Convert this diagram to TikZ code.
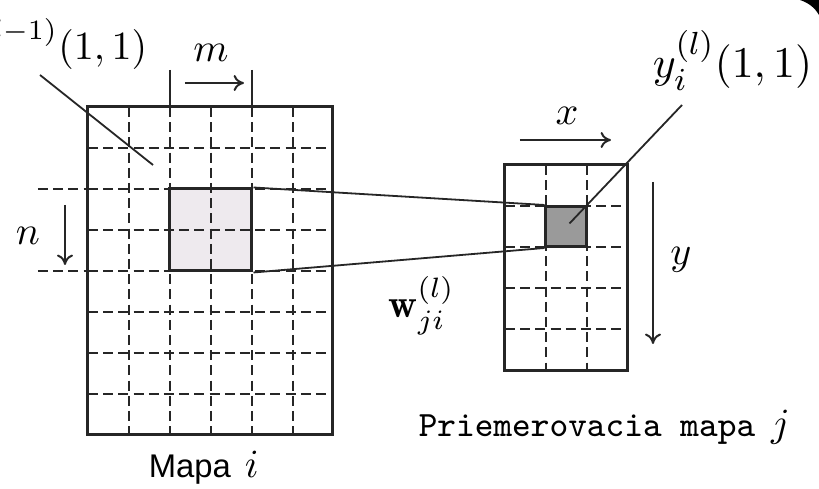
\documentclass[tikz,border=0pt]{standalone}
\usepackage{fontspec}
\newfontfamily\sansf{Liberation Sans}
\usetikzlibrary{arrows.meta}
\definecolor{lightsq}{HTML}{EEEAEE}
\definecolor{darksq}{HTML}{9A9A9A}
\definecolor{ink}{HTML}{262626}
\begin{document}
\begin{tikzpicture}[x=0.25pt,y=-0.25pt,
  solidline/.style={draw=ink,line width=0.75pt},
  dashline/.style={draw=ink,line width=0.6pt,dash pattern=on 2.5pt off 1.3pt},
  leader/.style={draw=ink,line width=0.45pt},
  arr/.style={draw=ink,line width=0.5pt,-{To[length=2.6pt,width=4pt]}},
  lbl/.style={inner sep=0pt,font=\fontsize{10}{12}\selectfont},
  winbox/.style={draw=ink,line width=0.75pt,inner sep=0pt,minimum width=20.5pt,minimum height=20.5pt},
  cellbox/.style={draw=ink,line width=0.75pt,inner sep=0pt,minimum width=10.25pt,minimum height=10pt}]
\useasboundingbox (0,0) rectangle (819,489);
\fill[white] (0,0) rectangle (819,489);
\fill[black] (800,0) .. controls (809,3) and (815,8) .. (819,15) -- (819,0) -- cycle;
% left map
\fill[lightsq] (170,189) rectangle (252,271);
\foreach \x in {129,170,211,252,293} \draw[dashline] (\x,107) -- (\x,435);
\foreach \y in {148,189,230,271,312,353,394} \draw[dashline] (88,\y) -- (333,\y);
\draw[dashline] (38,189) -- (88,189);
\draw[dashline] (38,271) -- (88,271);
\draw[solidline] (88,107) rectangle (333,435);
\node[winbox] (win) at (211,230) {};
\draw[solidline,line width=0.6pt] (170,70) -- (170,107);
\draw[solidline,line width=0.6pt] (252,70) -- (252,107);
% right map
\fill[darksq] (546,206) rectangle (587,247);
\foreach \x in {546,587} \draw[dashline] (\x,165) -- (\x,371);
\foreach \y in {206,247,288,329} \draw[dashline] (505,\y) -- (628,\y);
\draw[solidline] (505,165) rectangle (628,371);
\node[cellbox] (cell) at (566.5,226.5) {};
% connectors
\draw[leader] (win.north east) -- (cell.north west);
\draw[leader] (win.south east) -- (cell.south west);
\coordinate (lstart) at (40,75);
\coordinate (lend) at (153,165);
\draw[leader] (lstart) -- (lend);
\coordinate (rend) at (682,105);
\draw[leader] ([shift={(3,-3)}]cell.center) -- (rend);
% arrows
\coordinate (m0) at (185,83); \coordinate (m1) at (244,83);
\draw[arr] (m0) -- (m1);
\coordinate (n0) at (65,205); \coordinate (n1) at (65,265);
\draw[arr] (n0) -- (n1);
\coordinate (x0) at (520,140); \coordinate (x1) at (611,140);
\draw[arr] (x0) -- (x1);
\coordinate (y0) at (653,182); \coordinate (y1) at (653,344);
\draw[arr] (y0) -- (y1);
% labels
\node[lbl,anchor=base east] (lin) at (148,60) {$y_i^{(l-1)}(1,1)$};
\node[lbl,anchor=base] (mlab) at (211,62) {$m$};
\node[lbl,anchor=base] (nlab) at (28,245) {$n$};
\node[lbl,anchor=base] (xlab) at (567,125) {$x$};
\node[lbl,anchor=base] (ylab) at (681,265) {$y$};
\node[lbl,anchor=base west] (wlab) at (388,318) {$\mathbf{w}_{ji}^{(l)}$};
\node[lbl,anchor=base west,font=\fontsize{11}{13}\selectfont] (yout) at (652,78) {$y_i^{(l)}(1,1)$};
\node[inner sep=0pt,anchor=base west] (mapi) at (148,478) {\fontsize{8.2}{10}\sansf Mapa\hspace{3.5pt}\fontsize{10}{12}\selectfont$i$};
\node[inner sep=0pt,anchor=base west] (mapj) at (418,437) {\fontsize{8.9}{10}\ttfamily Priemerovacia mapa\hspace{4pt}\fontsize{10}{12}\selectfont$j$};
\end{tikzpicture}
\end{document}
